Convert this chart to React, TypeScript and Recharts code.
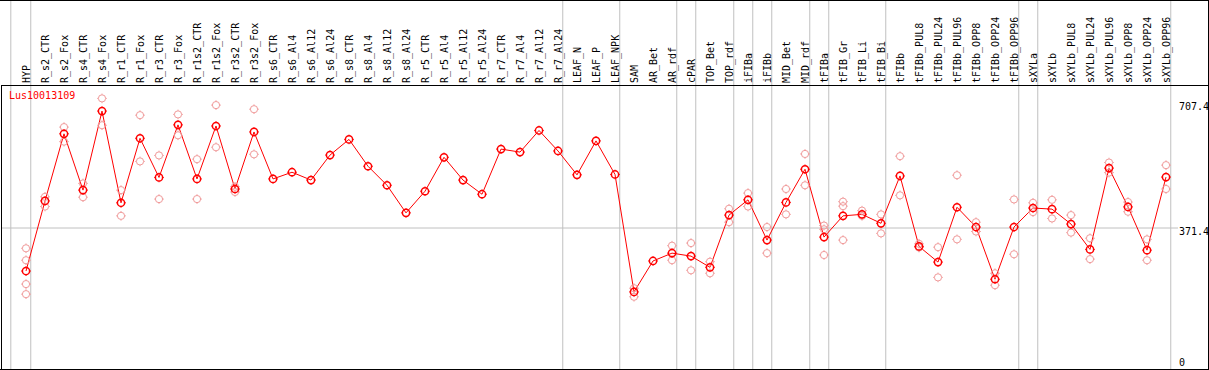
import { ComposedChart, Line, XAxis, YAxis, ReferenceLine } from 'recharts';

const categories = [
  'HYP', 'R_s2_CTR', 'R_s2_Fox', 'R_s4_CTR', 'R_s4_Fox', 'R_r1_CTR', 'R_r1_Fox', 'R_r3_CTR',
  'R_r3_Fox', 'R_r1s2_CTR', 'R_r1s2_Fox', 'R_r3s2_CTR', 'R_r3s2_Fox', 'R_s6_CTR', 'R_s6_Al4',
  'R_s6_Al12', 'R_s6_Al24', 'R_s8_CTR', 'R_s8_Al4', 'R_s8_Al12', 'R_s8_Al24', 'R_r5_CTR',
  'R_r5_Al4', 'R_r5_Al12', 'R_r5_Al24', 'R_r7_CTR', 'R_r7_Al4', 'R_r7_Al12', 'R_r7_Al24',
  'LEAF_N', 'LEAF_P', 'LEAF_NPK', 'SAM', 'AR_Bet', 'AR_rdf', 'cPAR', 'TOP_Bet', 'TOP_rdf',
  'iFIBa', 'iFIBb', 'MID_Bet', 'MID_rdf', 'tFIBa', 'tFIB_Gr', 'tFIB_Li', 'tFIB_Bi', 'tFIBb',
  'tFIBb_PUL8', 'tFIBb_PUL24', 'tFIBb_PUL96', 'tFIBb_OPP8', 'tFIBb_OPP24', 'tFIBb_OPP96',
  'sXYLa', 'sXYLb', 'sXYLb_PUL8', 'sXYLb_PUL24', 'sXYLb_PUL96', 'sXYLb_OPP8', 'sXYLb_OPP24',
  'sXYLb_OPP96',
];

const meanValues = [
  256, 444, 624, 473, 685, 439, 612, 507, 648, 503, 645, 476, 629, 503, 521, 500, 567, 609,
  537, 486, 412, 470, 561, 500, 462, 583, 575, 633, 578, 514, 605, 515, 200, 283, 304, 296,
  266, 406, 447, 339, 440, 529, 347, 404, 408, 384, 511, 322, 280, 427, 374, 234, 374, 425,
  422, 382, 314, 532, 428, 312, 508,
];

// individual samples per tissue (empty where only the mean is shown)
const replicates: number[][] = [
  [317, 285, 221, 194], [455, 429], [642, 603], [491, 454], [719, 647], [473, 404], [674, 550],
  [566, 449], [676, 620], [556, 449], [701, 588], [482, 468], [690, 569], [], [], [], [], [],
  [], [], [], [], [], [], [], [], [], [], [], [], [], [], [210, 187], [], [324, 285], [331, 258],
  [281, 250], [423, 387], [465, 429], [374, 304], [476, 408], [570, 486], [378, 368, 299],
  [442, 430, 339], [418, 404], [408, 357], [564, 459], [329, 319], [320, 239], [513, 341],
  [387, 362], [250, 218], [448, 301], [439, 414], [447, 397], [406, 359], [344, 288],
  [547, 520], [441, 415], [341, 285], [540, 476],
];

const groupEnds = [
  'HYP', 'R_r7_Al24', 'LEAF_NPK', 'AR_rdf', 'cPAR', 'TOP_rdf', 'iFIBa', 'iFIBb', 'MID_rdf',
  'tFIBa', 'tFIB_Bi', 'tFIBb_OPP96', 'sXYLa', 'sXYLb_OPP96',
];

const axisTicks = [0, 371.4, 707.4];
const gridValues = [371.4];
const geneName = 'Lus10013109';

const X_MIN = -1.316;
const X_MAX = 62.21;
const X_LABELS = 60.63;
const Y_MIN = -6.7;
const Y_MAX = 754.9;
const Y_HEADER = 983;
const FONT = '"DejaVu Sans Mono", monospace';

const data = categories.map((name, i) => {
  const row: Record<string, number | string | null> = { idx: i, name, mean: meanValues[i] };
  for (let k = 0; k < 4; k++) row[`r${k}`] = replicates[i][k] ?? null;
  return row;
});

const dividers = [-0.8, ...groupEnds.map((g) => categories.indexOf(g) + 0.25)];

function makeDot(color: string, width: number) {
  return (props: any) => {
    const { cx, cy, index } = props;
    if (cy == null || cx == null || Number.isNaN(cy)) return <g key={`e${index}`} />;
    return (
      <g key={`d${index}`} stroke={color} fill="none">
        <circle cx={cx} cy={cy} r={3.6} strokeWidth={width} />
        <g strokeWidth={1}>
          <line x1={cx} y1={cy - 3.8} x2={cx} y2={cy - 4.8} />
          <line x1={cx} y1={cy + 3.8} x2={cx} y2={cy + 4.8} />
          <line x1={cx - 3.8} y1={cy} x2={cx - 4.8} y2={cy} />
          <line x1={cx + 3.8} y1={cy} x2={cx + 4.8} y2={cy} />
        </g>
      </g>
    );
  };
}

const HeaderTick = ({ x, y, payload }: any) => (
  <text
    transform={`translate(${Math.round(x + 4)}, ${y}) rotate(-90)`}
    fontFamily={FONT}
    fontSize={10}
    fill="#000"
    textAnchor="start"
  >
    {categories[payload.value]}
  </text>
);

const valueLabel = (text: string) => (props: any) => {
  const vb = props.viewBox;
  return (
    <text x={vb.x + 1} y={Math.min(vb.y + 7.3, 365.6)} fontFamily={FONT} fontSize={10} fill="#000">
      {text}
    </text>
  );
};

export default function App() {
  return (
    <div style={{ position: 'absolute', left: 0, top: 0, width: 1209, height: 370, background: '#fff' }}>
      <ComposedChart width={1209} height={370} data={data} margin={{ top: 0, right: 1, bottom: 1, left: 1 }}>
        <XAxis
          dataKey="idx"
          type="number"
          orientation="top"
          domain={[X_MIN, X_MAX]}
          allowDataOverflow
          ticks={categories.map((_, i) => i)}
          interval={0}
          height={85}
          axisLine={false}
          tickLine={false}
          tickSize={0}
          tickMargin={2}
          tick={<HeaderTick />}
        />
        <YAxis hide domain={[Y_MIN, Y_MAX]} allowDataOverflow />
        {dividers.map((d) => (
          <ReferenceLine
            key={`v${d}`}
            segment={[{ x: d, y: Y_MIN }, { x: d, y: Y_HEADER }]}
            stroke="#c0c0c0"
            strokeWidth={1}
            ifOverflow="visible"
          />
        ))}
        {gridValues.map((g) => (
          <ReferenceLine
            key={`h${g}`}
            segment={[{ x: X_MIN, y: g }, { x: X_LABELS, y: g }]}
            stroke="#c0c0c0"
            strokeWidth={1}
            ifOverflow="visible"
          />
        ))}
        {axisTicks.map((t) => (
          <ReferenceLine
            key={`t${t}`}
            segment={[{ x: X_LABELS, y: t }, { x: X_MAX, y: t }]}
            stroke="none"
            ifOverflow="visible"
            label={valueLabel(String(t))}
          />
        ))}
        {[0, 1, 2, 3].map((k) => (
          <Line
            key={`r${k}`}
            dataKey={`r${k}`}
            stroke="none"
            dot={makeDot('#f09a9a', 1)}
            activeDot={false}
            isAnimationActive={false}
            legendType="none"
          />
        ))}
        <Line
          dataKey="mean"
          stroke="#ff0000"
          strokeWidth={1}
          dot={makeDot('#ff0000', 1.5)}
          activeDot={false}
          isAnimationActive={false}
        />
      </ComposedChart>
      <div style={{ position: 'absolute', left: 0, top: 0, width: 1209, height: 370, borderTop: '1px solid #000', borderRight: '1px solid #000', borderBottom: '1px solid #000', boxSizing: 'border-box', pointerEvents: 'none' }} />
      <div style={{ position: 'absolute', left: 1, top: 85, width: 1208, height: 285, borderTop: '1px solid #000', borderLeft: '1px solid #000', boxSizing: 'border-box', pointerEvents: 'none' }} />
      <div style={{ position: 'absolute', left: 9, top: 90, fontFamily: FONT, fontSize: 10, color: '#ff0000', lineHeight: '12px' }}>
        {geneName}
      </div>
    </div>
  );
}
